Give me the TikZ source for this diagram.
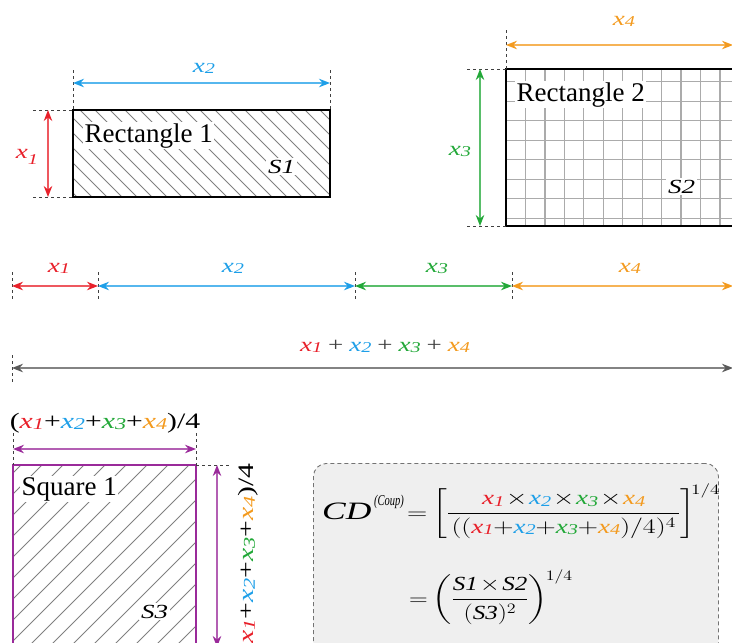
\documentclass[tikz,border=0pt]{standalone}
\usepackage{fontspec}
\setmainfont{Liberation Serif}
\usepackage{amsmath}
\usepackage{graphicx}
\usetikzlibrary{arrows.meta}
\definecolor{cred}{HTML}{E8202A}
\definecolor{cblue}{HTML}{1E9FE8}
\definecolor{cgreen}{HTML}{22A838}
\definecolor{corange}{HTML}{F39A1E}
\definecolor{cpurple}{HTML}{9A2A9A}
\definecolor{cgray}{HTML}{5A5A5A}
\definecolor{boxfill}{HTML}{EFEFEF}
\newcommand\stretchx[1]{\scalebox{1.35}[1]{#1}}
\newcommand\xv[2]{\textcolor{#1}{\textit{x}\raisebox{-0.08em}{\scalebox{0.75}{\textit{#2}}}}}
\newcommand\gplus{\hspace{0.22em}\textcolor{black!75}{+}\hspace{0.22em}}
\begin{document}
\begin{tikzpicture}[x=1pt,y=-1pt,
  ext/.style={draw=black!75, line width=0.9pt, dash pattern=on 3pt off 3pt},
  dimc/.style={line width=1.3pt, draw=#1!75, {Stealth[length=11pt,width=8.5pt,color=#1]}-{Stealth[length=11pt,width=8.5pt,color=#1]}},
  hatchline/.style={draw=black!50, line width=0.8pt},
  gridline/.style={draw=black!33, line width=1.3pt},
  lblw/.style={inner sep=1.5pt, fill=white, font=\fontsize{27}{31}\selectfont},
  dimlbl/.style={inner sep=0pt, font=\fontsize{20}{24}\selectfont},
]
\useasboundingbox (0,0) rectangle (732,643);
\clip (0,0) rectangle (732,643);

% ---------- Rectangle 1 ----------
\coordinate (r1tl) at (73,110);
\coordinate (r1br) at (330,197);
\coordinate (r1tr) at (330,110);
\coordinate (r1bl) at (73,197);
\begin{scope}
  \clip (r1tl) rectangle (r1br);
  \foreach \i in {-100,-85,...,340} \draw[hatchline] (\i,110) -- ++(90,90);
\end{scope}
\draw[line width=1.3pt] (r1tl) rectangle (r1br);
\node[lblw, anchor=base west] (t1) at (83,142) {Rectangle 1};
\node[lblw, anchor=base west, inner sep=2pt] (s1) at (266,173) {\stretchx{\fontsize{20}{24}\selectfont\textit{S1}}};
% x2 dimension
\coordinate (e2a) at (73,70); \coordinate (e2b) at (330,70);
\draw[ext] (e2a) -- (r1tl);
\draw[ext] (e2b) -- (r1tr);
\coordinate (a2a) at (73,83); \coordinate (a2b) at (330,83);
\draw[dimc=cblue] (a2a) -- (a2b);
\node[dimlbl, anchor=base] (l2) at (204,72) {\stretchx{\xv{cblue}{2}}};
% x1 dimension
\coordinate (e1a) at (33,110); \coordinate (e1b) at (33,197);
\draw[ext] (e1a) -- (r1tl);
\draw[ext] (e1b) -- (r1bl);
\coordinate (a1a) at (48,110); \coordinate (a1b) at (48,197);
\draw[dimc=cred] (a1a) -- (a1b);
\node[dimlbl, anchor=base] (l1) at (27,158) {\stretchx{\textcolor{cred}{\textit{x}\raisebox{-0.3em}{\scalebox{0.75}{\textit{1}}}}}};

% ---------- Rectangle 2 ----------
\coordinate (r2tl) at (506,69);
\coordinate (r2br) at (745,226);
\coordinate (r2bl) at (506,226);
\begin{scope}
  \clip (r2tl) rectangle (r2br);
  \foreach \k in {1,...,12} \draw[gridline] (506+19.45*\k,69) -- (506+19.45*\k,226);
  \foreach \k in {0,...,7} \draw[gridline] (506,81.8+19.5*\k) -- (745,81.8+19.5*\k);
\end{scope}
\draw[line width=1.3pt] (r2tl) rectangle (r2br);
\node[lblw, anchor=base west] (t2) at (515,101) {Rectangle 2};
\node[lblw, anchor=base west, inner sep=2pt] (s2) at (666,193) {\stretchx{\fontsize{20}{24}\selectfont\textit{S2}}};
% x4 dimension
\coordinate (e4a) at (506,30);
\draw[ext] (e4a) -- (r2tl);
\coordinate (a4a) at (506,45); \coordinate (a4b) at (733,45);
\draw[dimc=corange] (a4a) -- (a4b);
\node[dimlbl, anchor=base] (l4) at (624,25) {\stretchx{\xv{corange}{4}}};
% x3 dimension
\coordinate (e3a) at (467,69); \coordinate (e3b) at (467,226);
\draw[ext] (e3a) -- (r2tl);
\draw[ext] (e3b) -- (r2bl);
\coordinate (a3a) at (480,69); \coordinate (a3b) at (480,226);
\draw[dimc=cgreen] (a3a) -- (a3b);
\node[dimlbl, anchor=base] (l3) at (460,155) {\stretchx{\xv{cgreen}{3}}};

% ---------- Row of segments ----------
\foreach \x/\n in {12/p0,98/p1,355/p2,512/p3}{
  \coordinate (\n t) at (\x,272);
  \coordinate (\n b) at (\x,300);
  \coordinate (\n) at (\x,286);
  \draw[ext] (\n t) -- (\n b);
}
\coordinate (p4) at (733,286);
\draw[dimc=cred] (p0) -- (p1);
\draw[dimc=cblue] (p1) -- (p2);
\draw[dimc=cgreen] (p2) -- (p3);
\draw[dimc=corange] (p3) -- (p4);
\node[dimlbl, anchor=base] (m1) at (59,272) {\stretchx{\xv{cred}{1}}};
\node[dimlbl, anchor=base] (m2) at (233,272) {\stretchx{\xv{cblue}{2}}};
\node[dimlbl, anchor=base] (m3) at (437,272) {\stretchx{\xv{cgreen}{3}}};
\node[dimlbl, anchor=base] (m4) at (630,272) {\stretchx{\xv{corange}{4}}};

% ---------- Total ----------
\coordinate (q0t) at (12,355); \coordinate (q0b) at (12,382);
\draw[ext] (q0t) -- (q0b);
\coordinate (q0) at (12,368); \coordinate (q1) at (733,368);
\draw[dimc=cgray] (q0) -- (q1);
\node[dimlbl, anchor=base] (mt) at (385,351) {\stretchx{\xv{cred}{1}\gplus\xv{cblue}{2}\gplus\xv{cgreen}{3}\gplus\xv{corange}{4}}};

% ---------- Square 1 ----------
\coordinate (sqtl) at (13,465);
\coordinate (sqtr) at (196,465);
\coordinate (sqbr) at (196,660);
\begin{scope}
  \clip (sqtl) rectangle (sqbr);
  \foreach \i in {-200,-179,...,260} \draw[hatchline] (\i,665) -- ++(210,-210);
\end{scope}
\draw[cpurple, line width=1.3pt] (sqtl) rectangle (sqbr);
\node[lblw, anchor=base west] (t3) at (20,495) {Square 1};
\node[lblw, anchor=base west, inner sep=2pt] (s3) at (139,618) {\stretchx{\fontsize{20}{24}\selectfont\textit{S3}}};
% top dimension
\coordinate (e5a) at (13,433); \coordinate (e5b) at (196,433);
\draw[ext] (e5a) -- (sqtl);
\draw[ext] (e5b) -- (sqtr);
\coordinate (a5a) at (13,449); \coordinate (a5b) at (196,449);
\draw[dimc=cpurple] (a5a) -- (a5b);
\node[dimlbl, anchor=base, font=\fontsize{22}{26}\selectfont] (l5) at (105,428) {\stretchx{(\xv{cred}{1}+\xv{cblue}{2}+\xv{cgreen}{3}+\xv{corange}{4})/4}};
% right dimension
\coordinate (e6a) at (231,465);
\draw[ext] (sqtr) -- (e6a);
\coordinate (a6a) at (217,465); \coordinate (a6b) at (217,647);
\draw[dimc=cpurple] (a6a) -- (a6b);
\node[dimlbl, rotate=90, anchor=base east, font=\fontsize{22}{26}\selectfont] (l6) at (253,463) {\stretchx{(\xv{cred}{1}+\xv{cblue}{2}+\xv{cgreen}{3}+\xv{corange}{4})/4}};

% ---------- Formula box ----------
\node[draw=black!55, fill=boxfill, line width=0.9pt, dash pattern=on 4pt off 3pt, rounded corners=13pt,
      minimum width=405pt, minimum height=230pt, anchor=north west, inner sep=0pt] (box) at (313,463) {};
\node[inner sep=0pt, anchor=base west] (cd) at (322,519)
 {\scalebox{1.42}[1]{\fontsize{25}{30}\selectfont\textit{CD}}};
\node[inner sep=0pt, anchor=base west] (coup) at (374,505)
 {\scalebox{0.7}[1]{\fontsize{15}{18}\selectfont\textit{(Coup)}}};
\node[inner sep=0pt, anchor=base west, font=\fontsize{20}{24}\selectfont] (f1) at (407,519)
 {\scalebox{1.35}[1]{\medmuskip=1mu\thickmuskip=3mu$\displaystyle = \left[\dfrac{\xv{cred}{1}\times\xv{cblue}{2}\times\xv{cgreen}{3}\times\xv{corange}{4}}{\mkern2mu((\xv{cred}{1}{+}\xv{cblue}{2}{+}\xv{cgreen}{3}{+}\xv{corange}{4})/4)^{4}\mkern2mu}\right]^{\mkern-4mu 1/4}$}};
\node[inner sep=0pt, anchor=base west, font=\fontsize{20}{24}\selectfont] (f2) at (409,605)
 {\scalebox{1.25}[1]{\medmuskip=1.5mu\thickmuskip=3mu$\displaystyle = \left(\dfrac{\textit{S1}\times\textit{S2}}{(\textit{S3})^{2}}\right)^{\mkern-2mu 1/4}$}};
\end{tikzpicture}
\end{document}
